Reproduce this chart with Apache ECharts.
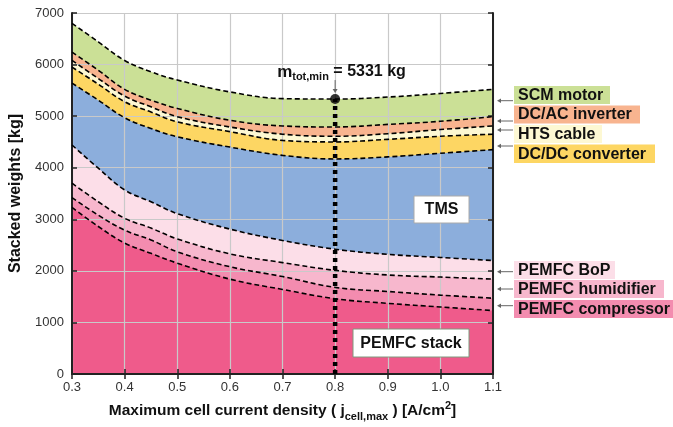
<!DOCTYPE html>
<html><head><meta charset="utf-8">
<script src="https://cdn.jsdelivr.net/npm/echarts@6/dist/echarts.min.js"></script>
<style>html,body{margin:0;padding:0;background:#fff}#c{width:673px;height:427px}</style>
</head><body><div id="c"></div>
<script>
// x: maximum cell current density [A/cm2]
const xValues = [0.3, 0.35, 0.4, 0.45, 0.5, 0.6, 0.7, 0.8, 0.9, 1.0, 1.1];
// component weights [kg] (stacked bottom -> top)
const pemfcStack      = [3230, 2860, 2540, 2340, 2150, 1840, 1640, 1460, 1370, 1300, 1230];
const pemfcCompressor = [190, 220, 250, 260, 220, 240, 250, 220, 230, 230, 240];
const pemfcHumidifier = [280, 260, 230, 230, 250, 250, 270, 330, 320, 350, 370];
const pemfcBoP        = [740, 650, 550, 510, 490, 480, 430, 410, 400, 380, 360];
const tms             = [1200, 1320, 1400, 1420, 1490, 1590, 1650, 1750, 1890, 2020, 2150];
const dcdcConverter   = [310, 310, 310, 320, 290, 300, 290, 330, 340, 330, 300];
const htsCable        = [130, 110, 110, 100, 100, 90, 120, 110, 110, 130, 160];
const dcacInverter    = [160, 160, 130, 130, 160, 130, 160, 180, 180, 160, 180];
const scmMotor        = [560, 550, 560, 550, 550, 550, 530, 541, 530, 540, 530];
const yTicks = [0, 1000, 2000, 3000, 4000, 5000, 6000, 7000];
const xTicks = [0.3, 0.4, 0.5, 0.6, 0.7, 0.8, 0.9, 1.0, 1.1];

const layers = [
  {name: 'PEMFC stack', data: pemfcStack, color: '#EF5B8B'},
  {name: 'PEMFC compressor', data: pemfcCompressor, color: '#F38CAF'},
  {name: 'PEMFC humidifier', data: pemfcHumidifier, color: '#F7B7CD'},
  {name: 'PEMFC BoP', data: pemfcBoP, color: '#FCDEE8'},
  {name: 'TMS', data: tms, color: '#8CAEDC'},
  {name: 'DC/DC converter', data: dcdcConverter, color: '#FDD663'},
  {name: 'HTS cable', data: htsCable, color: '#FDF8D3'},
  {name: 'DC/AC inverter', data: dcacInverter, color: '#F8B48F'},
  {name: 'SCM motor', data: scmMotor, color: '#CBE096'}
];

// cumulative tops of each layer
const running = xValues.map(() => 0);
layers.forEach(l => {
  l.cum = l.data.map((v, i) => (running[i] += v));
});
const totals = layers[layers.length - 1].cum;
let iOpt = 0;
totals.forEach((t, i) => { if (t < totals[iOpt]) iOpt = i; });
const xOpt = xValues[iOpt], tOpt = totals[iOpt];

const FONT = '"Liberation Sans", Arial, Helvetica, sans-serif';
const SMOOTH = 0.4;
const series = [];
// areas: draw top layer first, each filled down to zero
layers.slice().reverse().forEach(l => {
  series.push({
    name: l.name, type: 'line', data: xValues.map((x, i) => [x, l.cum[i]]), smooth: SMOOTH,
    symbol: 'none', z: 1, lineStyle: {width: 0}, areaStyle: {color: l.color, opacity: 1, origin: 'start'},
    silent: true
  });
});
layers.forEach(l => {
  series.push({
    name: l.name + ' line', type: 'line', data: xValues.map((x, i) => [x, l.cum[i]]), smooth: SMOOTH,
    symbol: 'none', z: 3, lineStyle: {width: 1.6, color: '#000', type: [5, 3]},
    silent: true
  });
});
series.push({
  type: 'line', data: [[xOpt, 0], [xOpt, tOpt]], symbol: 'none', z: 4,
  lineStyle: {width: 4.5, color: '#000', type: [4, 4], cap: 'butt'}, silent: true
});
series.push({
  type: 'scatter', data: [[xOpt, tOpt]], symbolSize: 10, z: 5,
  itemStyle: {color: '#000'}, silent: true
});

const axisCommon = {
  axisLine: {show: true, lineStyle: {color: '#222', width: 2}},
  axisTick: {show: true, inside: true, length: 5, lineStyle: {color: '#222', width: 1.5}}
};

const chart = echarts.init(document.getElementById('c'), null, {renderer: 'canvas'});
chart.setOption({
  animation: false,
  backgroundColor: '#fff',
  grid: {left: 71, right: 180, top: 13, bottom: 53},
  xAxis: [{
    type: 'value', min: xTicks[0], max: xTicks[xTicks.length - 1], interval: 0.1, z: 2,
    ...axisCommon,
    axisLabel: {color: '#333', fontSize: 13, fontFamily: FONT, margin: 7, formatter: v => v.toFixed(1)},
    splitLine: {show: true, lineStyle: {color: '#c9c9c9', width: 1.2}},
    name: '{a|Maximum cell current density ( }{a|j}{s|cell,max}{a| ) [A/cm}{p|2}{a|]}',
    nameLocation: 'middle', nameGap: 26,
    nameTextStyle: {
      rich: {
        a: {fontSize: 15.5, fontWeight: 'bold', fontFamily: FONT, color: '#111', lineHeight: 22},
        s: {fontSize: 11, fontWeight: 'bold', fontFamily: FONT, color: '#111', lineHeight: 11, verticalAlign: 'bottom'},
        p: {fontSize: 11, fontWeight: 'bold', fontFamily: FONT, color: '#111', lineHeight: 11, verticalAlign: 'top'}
      }
    }
  }, {
    type: 'value', position: 'top', min: xTicks[0], max: xTicks[xTicks.length - 1], interval: 0.1, z: 2,
    ...axisCommon, axisLabel: {show: false}, splitLine: {show: false}
  }],
  yAxis: [{
    type: 'value', min: yTicks[0], max: yTicks[yTicks.length - 1], interval: 1000, z: 2,
    ...axisCommon,
    axisLabel: {color: '#333', fontSize: 13, fontFamily: FONT, margin: 8, formatter: v => String(v)},
    splitLine: {show: true, lineStyle: {color: '#c9c9c9', width: 1.2}},
    name: 'Stacked weights [kg]', nameLocation: 'middle', nameGap: 48,
    nameTextStyle: {fontSize: 16, fontWeight: 'bold', fontFamily: FONT, color: '#111'}
  }, {
    type: 'value', position: 'right', min: yTicks[0], max: yTicks[yTicks.length - 1], interval: 1000, z: 2,
    ...axisCommon, axisLabel: {show: false}, splitLine: {show: false}
  }],
  series: series
});

// annotations
const p = chart.convertToPixel({xAxisIndex: 0, yAxisIndex: 0}, [xOpt, tOpt]);
const g = [];
g.push({
  type: 'text', x: p[0] - 58, y: p[1] - 27, z: 10,
  style: {
    text: '{m|m}{s|tot,min}{a| = ' + tOpt + ' kg}', verticalAlign: 'middle', align: 'left',
    rich: {
      m: {fontSize: 17, fontWeight: 'bold', fontFamily: FONT, fill: '#111', lineHeight: 20},
      s: {fontSize: 11, fontWeight: 'bold', fontFamily: FONT, fill: '#111', lineHeight: 10, verticalAlign: 'bottom'},
      a: {fontSize: 16, fontWeight: 'bold', fontFamily: FONT, fill: '#111', lineHeight: 20}
    }
  }
});
g.push({type: 'line', z: 10, shape: {x1: p[0], y1: p[1] - 19, x2: p[0], y2: p[1] - 9}, style: {stroke: '#666', lineWidth: 1}});
g.push({type: 'polygon', z: 10, shape: {points: [[p[0] - 2.5, p[1] - 10], [p[0] + 2.5, p[1] - 10], [p[0], p[1] - 6]]}, style: {fill: '#666'}});

function boxLabel(text, x, y, w, h, fill, stroke) {
  g.push({type: 'rect', z: 10, shape: {x: x, y: y, width: w, height: h},
    style: {fill: fill, stroke: stroke || null, lineWidth: stroke ? 1 : 0}});
  g.push({type: 'text', z: 11, x: x + 4, y: y + h / 2 + 0.5,
    style: {text: text, fontSize: 16, fontWeight: 'bold', fontFamily: FONT, fill: '#111', verticalAlign: 'middle', align: 'left'}});
}
function arrow(y) {
  g.push({type: 'line', z: 10, shape: {x1: 513, y1: y, x2: 500, y2: y}, style: {stroke: '#666', lineWidth: 1}});
  g.push({type: 'polygon', z: 10, shape: {points: [[501, y - 2.3], [501, y + 2.3], [497, y]]}, style: {fill: '#666'}});
}
const labelColor = {};
layers.forEach(l => labelColor[l.name] = l.color);
boxLabel('SCM motor', 514, 86, 96, 18, labelColor['SCM motor']);
boxLabel('DC/AC inverter', 514, 105.5, 126, 18, labelColor['DC/AC inverter']);
boxLabel('HTS cable', 514, 125, 88, 18, labelColor['HTS cable']);
boxLabel('DC/DC converter', 514, 144.5, 141, 18.5, labelColor['DC/DC converter']);
boxLabel('PEMFC BoP', 514, 261, 101, 18, labelColor['PEMFC BoP']);
boxLabel('PEMFC humidifier', 514, 280, 150, 18, labelColor['PEMFC humidifier']);
boxLabel('PEMFC compressor', 514, 300, 165, 18, labelColor['PEMFC compressor']);
arrow(100.7); arrow(121); arrow(130); arrow(146);
arrow(271.7); arrow(289); arrow(305.7);

// in-plot labels
g.push({type: 'rect', z: 10, shape: {x: 414, y: 196, width: 55, height: 27}, style: {fill: '#fff', stroke: '#aaa', lineWidth: 1}});
g.push({type: 'text', z: 11, x: 441.5, y: 210, style: {text: 'TMS', fontSize: 16, fontWeight: 'bold', fontFamily: FONT, fill: '#111', align: 'center', verticalAlign: 'middle'}});
g.push({type: 'rect', z: 10, shape: {x: 353, y: 329, width: 116, height: 28}, style: {fill: '#fff', stroke: '#7f9a7f', lineWidth: 1}});
g.push({type: 'text', z: 11, x: 411, y: 343.5, style: {text: 'PEMFC stack', fontSize: 16, fontWeight: 'bold', fontFamily: FONT, fill: '#111', align: 'center', verticalAlign: 'middle'}});

chart.setOption({graphic: {elements: g}});
</script></body></html>
